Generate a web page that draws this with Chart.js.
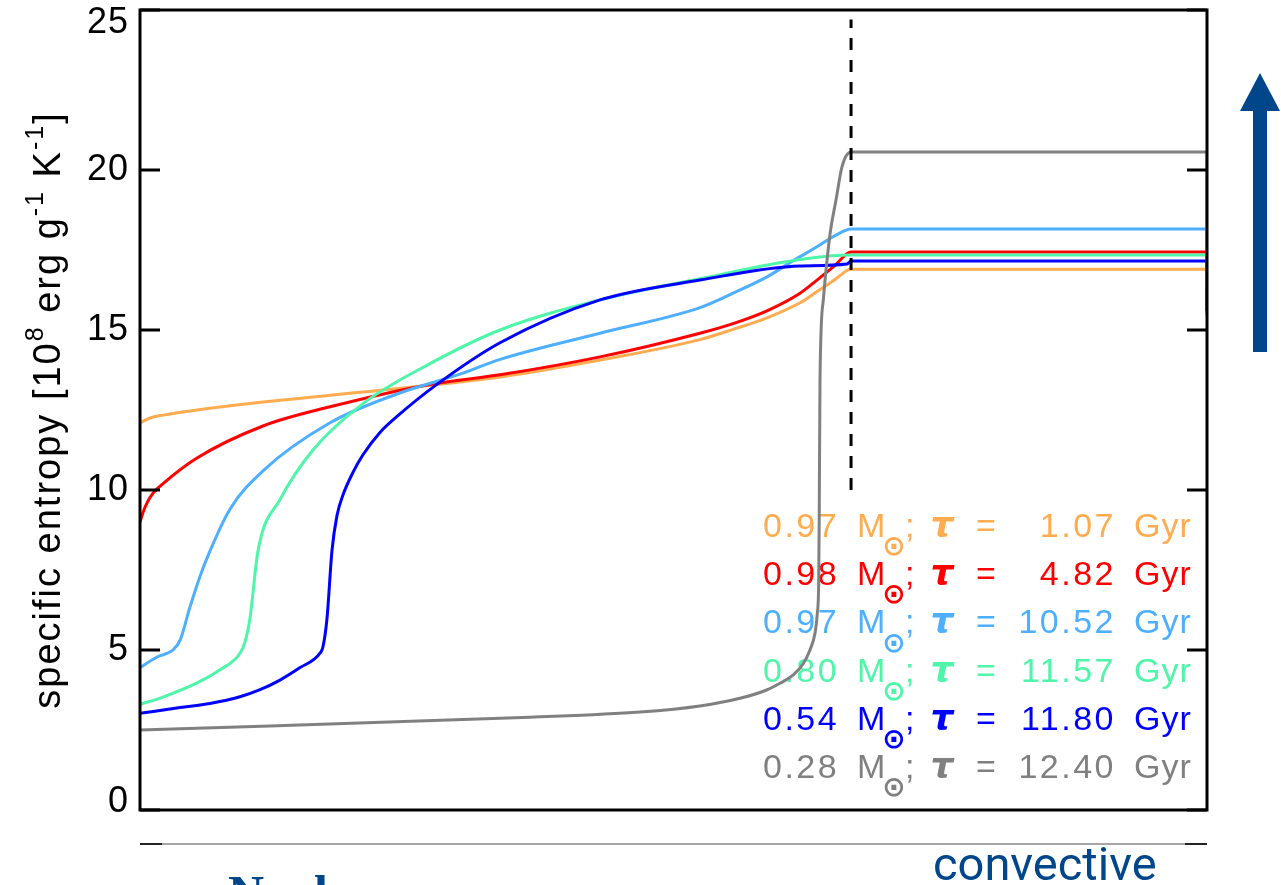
<!DOCTYPE html>
<html><head><meta charset="utf-8">
<script src="https://cdn.jsdelivr.net/npm/chart.js@4"></script>
<style>html,body{margin:0;padding:0;background:#fff;overflow:hidden}canvas{display:block}</style>
</head><body>
<canvas id="c" width="1281" height="885"></canvas>
<script>
// ---- data (x: normalised coordinate, y: specific entropy in 1e8 erg/g/K) ----
const masses = ['0.97','0.98','0.97','0.80','0.54','0.28'];
const ages   = ['1.07','4.82','10.52','11.57','11.80','12.40'];
const colors = ['#FFAB4F','#FF0000','#4FAFFF','#4FF5A8','#0000FF','#808080'];
const yTicks = [0,5,10,15,20,25];

const xOrange = [0,0.0094,0.0216,0.0534,0.1153,0.2090,0.3374,0.4311,0.5248,0.5558,0.5876,0.6186,0.6345,0.6514,0.6626,0.6664,1.0];
const yOrange = [12.1,12.25,12.34,12.5,12.75,13.06,13.53,14.06,14.7,15.02,15.38,15.85,16.2,16.58,16.86,16.9,16.9];

const xRed = [0,0.0028,0.0066,0.0122,0.0216,0.0534,0.1153,0.1781,0.2718,0.3374,0.4311,0.5248,0.5558,0.5876,0.6186,0.6345,0.6514,0.6664,1.0];
const yRed = [9.0,9.3,9.6,9.9,10.2,11.0,12.0,12.6,13.3,13.6,14.16,14.9,15.2,15.6,16.15,16.56,17.02,17.44,17.44];

const xLightBlue = [0,0.016,0.0309,0.0375,0.0469,0.0562,0.0656,0.0843,0.1153,0.1781,0.2409,0.3027,0.3374,0.4311,0.5248,0.5558,0.5876,0.6139,0.6345,0.6514,0.6664,1.0];
const yLightBlue = [4.45,4.78,5.0,5.3,6.35,7.3,8.1,9.4,10.6,12.1,13.0,13.65,14.08,14.9,15.7,16.15,16.66,17.2,17.6,17.95,18.16,18.16];

const xGreen = [0,0.0216,0.0534,0.0750,0.0937,0.0984,0.1031,0.1106,0.1312,0.1621,0.2090,0.2718,0.3374,0.4311,0.5248,0.6186,0.6664,1.0];
const yGreen = [3.3,3.53,3.97,4.38,4.9,5.25,6.0,8.1,9.7,11.25,12.7,13.95,15.0,15.94,16.6,17.2,17.34,17.34];

const xBlue = [0,0.0375,0.0656,0.0937,0.1125,0.1312,0.1500,0.1687,0.1715,0.1753,0.1799,0.1846,0.1903,0.1996,0.2090,0.2249,0.2409,0.2783,0.3374,0.4311,0.5248,0.6186,0.6626,0.6664,1.0];
const yBlue = [3.02,3.2,3.33,3.54,3.76,4.06,4.45,4.9,5.1,6.0,8.1,9.2,9.85,10.55,11.1,11.8,12.3,13.3,14.6,15.94,16.56,17.0,17.06,17.16,17.16];

const xGray = [0,0.3655,0.4686,0.5248,0.5623,0.5873,0.5998,0.6123,0.6217,0.6279,0.6326,0.6348,0.6361,0.6366,0.6373,0.6404,0.6467,0.6523,0.6579,0.6664,1.0];
const yGray = [2.5,2.9,3.06,3.25,3.49,3.75,3.96,4.22,4.58,5.0,5.52,6.15,7.19,9.27,13.44,15.94,18.0,19.06,20.1,20.56,20.56];

// value each profile drops to at the outer edge (x = 1)
const yEdge = [15.4,15.5,15.5,15.5,15.6,16.3];

const xBoundary = [0.6664,0.6664];
const yBoundary = [10,24.7];

// ---- build datasets ----
const pts = (xs,ys)=>xs.map((x,i)=>({x:x,y:ys[i]}));
const seriesX = [xOrange,xRed,xLightBlue,xGreen,xBlue,xGray];
const seriesY = [yOrange,yRed,yLightBlue,yGreen,yBlue,yGray];
const drawOrder = [5,4,3,2,1,0];
const datasets = [];
seriesX.forEach((xs,i)=>{
  datasets.push({
    label: masses[i]+' Msun; tau = '+ages[i]+' Gyr',
    data: pts(xs,seriesY[i]),
    borderColor: colors[i], backgroundColor: colors[i],
    borderWidth: 3, pointRadius: 0, fill:false,
    cubicInterpolationMode:'monotone', order: drawOrder[i]
  });
  const yl = seriesY[i][seriesY[i].length-1];
  datasets.push({
    label: 'edge '+i,
    data: pts([1,1],[yl,yEdge[i]]),
    borderColor: colors[i], borderWidth: 3, pointRadius: 0, tension: 0,
    order: drawOrder[i]
  });
});
datasets.push({
  label:'boundary', data: pts(xBoundary,yBoundary),
  borderColor:'#000', borderWidth:3, borderDash:[12,10], pointRadius:0,
  tension:0, order:-1
});

const FONT = '"Liberation Sans", Arial, Helvetica, sans-serif';

function drawLegend(ctx){
  ctx.save();
  masses.forEach((m,i)=>{
    const yb = 537 + i*48.2;
    ctx.fillStyle = colors[i];
    ctx.font = '34px ' + FONT;
    ctx.textBaseline = 'alphabetic';
    ctx.letterSpacing = '2.5px';
    ctx.textAlign = 'left';
    ctx.fillText(m, 763, yb);
    ctx.textAlign = 'right';
    ctx.fillText(ages[i], 1116, yb);
    ctx.letterSpacing = '1px';
    ctx.textAlign = 'left';
    ctx.fillText('M', 857, yb);
    ctx.fillText(';', 905, yb);
    ctx.fillText('Gyr', 1134, yb);
    ctx.letterSpacing = '0px';
    ctx.textAlign = 'center';
    ctx.fillText('=', 986, yb);
    ctx.font = 'italic bold 36px "DejaVu Sans", sans-serif';
    ctx.fillText('τ', 942, yb);
    ctx.font = 'bold 28px "DejaVu Sans", sans-serif';
    ctx.textBaseline = 'middle';
    ctx.fillText('⊙', 894, yb + 11);
  });
  ctx.restore();
}

function drawYTitle(ctx){
  const big = 38, small = 25;
  const pieces = [['specific entropy [10',0],['8',1],[' erg g',0],['-1',1],[' K',0],['-1',1],[']',0]];
  ctx.save();
  ctx.fillStyle = '#000';
  ctx.textBaseline = 'alphabetic';
  ctx.textAlign = 'left';
  ctx.letterSpacing = '2px';
  let total = 0; const w = [];
  pieces.forEach(p=>{
    ctx.font = (p[1]?small:big) + 'px ' + FONT;
    const ww = ctx.measureText(p[0]).width; w.push(ww); total += ww;
  });
  ctx.translate(60, 410);
  ctx.rotate(-Math.PI/2);
  let x = -total/2;
  pieces.forEach((p,i)=>{
    ctx.font = (p[1]?small:big) + 'px ' + FONT;
    ctx.fillText(p[0], x, p[1] ? -17 : 0);
    x += w[i];
  });
  ctx.restore();
}

const framePlugin = {
  id:'frame',
  beforeDatasetsDraw(chart){
    drawLegend(chart.ctx);
  },
  afterDatasetsDraw(chart){
    const ctx = chart.ctx, a = chart.chartArea, ys = chart.scales.y;
    ctx.save();
    ctx.strokeStyle = '#000'; ctx.lineWidth = 3;
    ctx.strokeRect(a.left, a.top, a.right - a.left, a.bottom - a.top);
    yTicks.forEach(v=>{
      const py = ys.getPixelForValue(v);
      ctx.beginPath();
      ctx.moveTo(a.left, py); ctx.lineTo(a.left + 20, py);
      ctx.moveTo(a.right, py); ctx.lineTo(a.right - 20, py);
      ctx.stroke();
    });
    ctx.fillStyle = '#000';
    ctx.font = '36px ' + FONT;
    ctx.letterSpacing = '1px';
    ctx.textAlign = 'right'; ctx.textBaseline = 'middle';
    yTicks.forEach(v=>{
      let py = ys.getPixelForValue(v);
      py = Math.min(Math.max(py, a.top + 13), a.bottom - 8);
      ctx.fillText(String(v), a.left - 11, py);
    });
    ctx.restore();
    drawYTitle(ctx);

    // lower (cropped) panel remnants
    ctx.save();
    ctx.strokeStyle = '#888'; ctx.lineWidth = 1.5;
    ctx.beginPath(); ctx.moveTo(a.left, 844); ctx.lineTo(a.right, 844); ctx.stroke();
    ctx.strokeStyle = '#222'; ctx.lineWidth = 2;
    ctx.beginPath(); ctx.moveTo(a.left, 844); ctx.lineTo(a.left + 22, 844);
    ctx.moveTo(a.right - 22, 844); ctx.lineTo(a.right, 844); ctx.stroke();
    ctx.fillStyle = '#00468B';
    ctx.font = '47px Roboto, sans-serif';
    ctx.textAlign = 'left'; ctx.textBaseline = 'alphabetic';
    ctx.fillText('convective', 933, 880);
    ctx.font = 'bold 50px "Liberation Serif", serif';
    ctx.fillText('Nuclear', 228, 910);
    // arrow
    ctx.beginPath();
    ctx.moveTo(1260, 73); ctx.lineTo(1280, 111); ctx.lineTo(1267, 111);
    ctx.lineTo(1267, 352); ctx.lineTo(1253, 352); ctx.lineTo(1253, 111);
    ctx.lineTo(1240, 111); ctx.closePath(); ctx.fill();
    ctx.restore();
  }
};

new Chart(document.getElementById('c').getContext('2d'), {
  type:'line',
  data:{datasets:datasets},
  options:{
    responsive:false, animation:false, devicePixelRatio:1,
    layout:{padding:{left:0, top:10, right:74, bottom:75}},
    plugins:{legend:{display:false}, tooltip:{enabled:false}},
    scales:{
      x:{type:'linear', min:0, max:1, display:false},
      y:{type:'linear', min:0, max:25,
         ticks:{stepSize:5, display:false},
         grid:{display:false}, border:{display:false},
         afterFit(s){ s.width = 140; }}
    }
  },
  plugins:[framePlugin]
});
</script>
</body></html>
